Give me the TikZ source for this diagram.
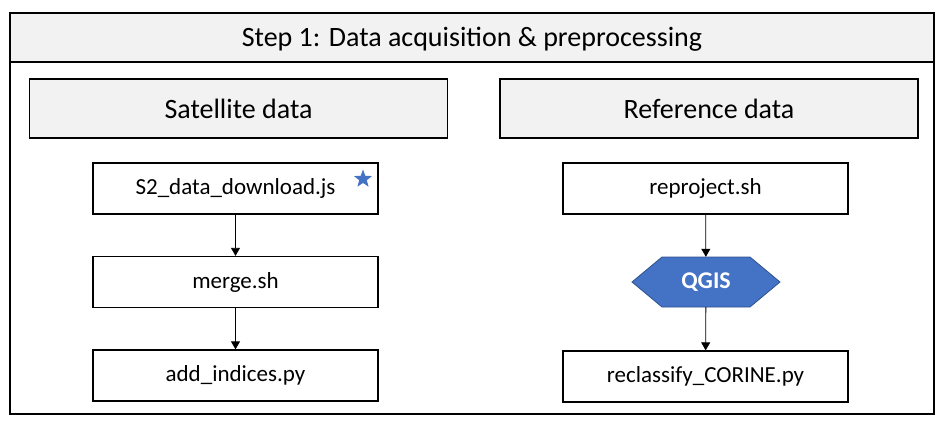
\documentclass[tikz,border=0pt]{standalone}
\usepackage{fontspec}
\setmainfont{Carlito}
\usetikzlibrary{arrows.meta,shapes.geometric}
\definecolor{hdrgray}{HTML}{F2F2F2}
\definecolor{qblue}{HTML}{4472C4}
\definecolor{qborder}{HTML}{2F528F}
\tikzset{
  frame/.style={draw=black, line width=1.6pt},
  hdrbox/.style={draw=black, line width=1.3pt, fill=hdrgray, minimum width=418pt, minimum height=59pt, inner sep=0pt, font=\fontsize{28}{32}\selectfont},
  stepbox/.style={draw=black, line width=1.3pt, fill=white, minimum width=285pt, minimum height=51pt, inner sep=0pt, font=\fontsize{23}{27}\selectfont},
  flow/.style={-{Triangle[length=8pt,width=9pt]}, line width=0.8pt},
}
\begin{document}
\begin{tikzpicture}[x=1pt,y=-1pt]
\useasboundingbox (0,0) rectangle (944,430);
% outer frame and title band
\fill[hdrgray] (10,13) rectangle (934,62);
\draw[frame] (10,13) rectangle (934,414);
\draw[frame] (10,62) -- (934,62);
\node[font=\fontsize{28}{32}\selectfont] (title) at (472,39) {Step 1: Data acquisition \& preprocessing};
% column headers
\node[hdrbox] (sat) at (238.5,108.5) {Satellite data};
\node[hdrbox] (ref) at (709,108.5) {Reference data};
% left column
\node[stepbox] (s2) at (235.5,188.5) {S2\_data\_download.js};
\node[stepbox] (merge) at (235.5,282) {merge.sh};
\node[stepbox] (add) at (235.5,375.5) {add\_indices.py};
\node[star, star points=5, star point ratio=2.4, fill=qblue, inner sep=0pt, minimum size=19pt] (star) at (363,179) {};
\draw[flow] (s2) -- (merge);
\draw[flow] (merge) -- (add);
% right column
\node[stepbox] (rep) at (705.5,188.5) {reproject.sh};
\node[stepbox] (recl) at (705.5,376.5) {reclassify\_CORINE.py};
\coordinate (qc) at (706,282);
\draw[fill=qblue, draw=qborder, line width=0.8pt]
  (632,282) -- (662,257) -- (750,257) -- (780,282) -- (750,307) -- (662,307) -- cycle;
\node[text=white, font=\fontsize{24}{28}\selectfont\bfseries, minimum width=148pt, minimum height=50pt, inner sep=0pt] (qgis) at (qc) {QGIS};
\draw[flow] (rep) -- (qgis);
\draw[flow] (qgis) -- (recl);
\end{tikzpicture}
\end{document}
